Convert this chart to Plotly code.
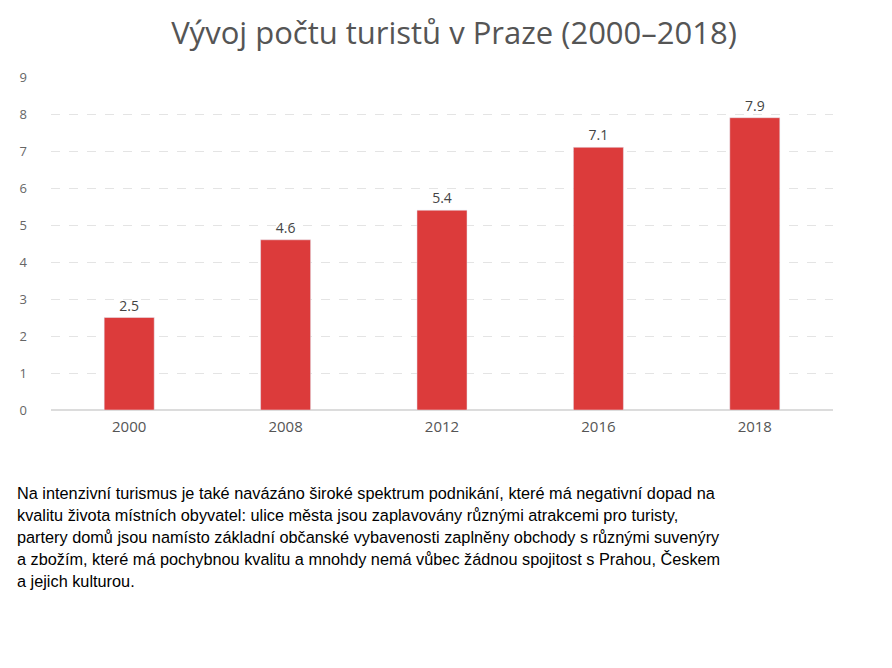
import plotly.graph_objects as go

years = ["2000", "2008", "2012", "2016", "2018"]
tourists = [2.5, 4.6, 5.4, 7.1, 7.9]
labels = ["2.5", "4.6", "5.4", "7.1", "7.9"]

caption_lines = [
    "Na intenzivní turismus je také navázáno široké spektrum podnikání, které má negativní dopad na",
    "kvalitu života místních obyvatel: ulice města jsou zaplavovány různými atrakcemi pro turisty,",
    "partery domů jsou namísto základní občanské vybavenosti zaplněny obchody s různými suvenýry",
    "a zbožím, které má pochybnou kvalitu a mnohdy nemá vůbec žádnou spojitost s Prahou, Českem",
    "a jejich kulturou.",
]

fig = go.Figure()
fig.add_trace(go.Bar(
    x=years, y=tourists, text=labels, textposition="outside",
    textfont=dict(size=14, color="#444", family="Open Sans"),
    marker=dict(color="#dc3b3b"), width=0.32, cliponaxis=False,
))

# caption lines, one annotation each to control line spacing
annots = []
for i, line in enumerate(caption_lines):
    annots.append(dict(
        text=line, xref="paper", yref="paper",
        x=-0.0456, y=(402 - (485 + 22 * i)) / 333, xanchor="left", yanchor="middle",
        align="left", showarrow=False,
        font=dict(size=16.3, color="black", family="Liberation Sans"),
    ))

fig.update_layout(
    width=892, height=668,
    margin=dict(l=36, r=67, t=69, b=266),
    paper_bgcolor="white", plot_bgcolor="white",
    title=dict(text="Vývoj počtu turistů v Praze (2000–2018)", x=0.5, xanchor="center",
               y=1 - 25 / 668, yanchor="middle", yref="container",
               font=dict(size=31, color="#555", family="Open Sans")),
    showlegend=False,
    annotations=annots,
)
fig.update_yaxes(range=[0, 9], dtick=1, gridcolor="#e4e4e4", griddash="dash",
                 zeroline=True, zerolinecolor="#dcdcdc", ticklabelstandoff=23,
                 tickfont=dict(size=13, color="#666", family="Open Sans"))
fig.update_xaxes(tickfont=dict(size=15, color="#555", family="Open Sans"), ticklabelstandoff=6)

fig.write_html("out.html")
